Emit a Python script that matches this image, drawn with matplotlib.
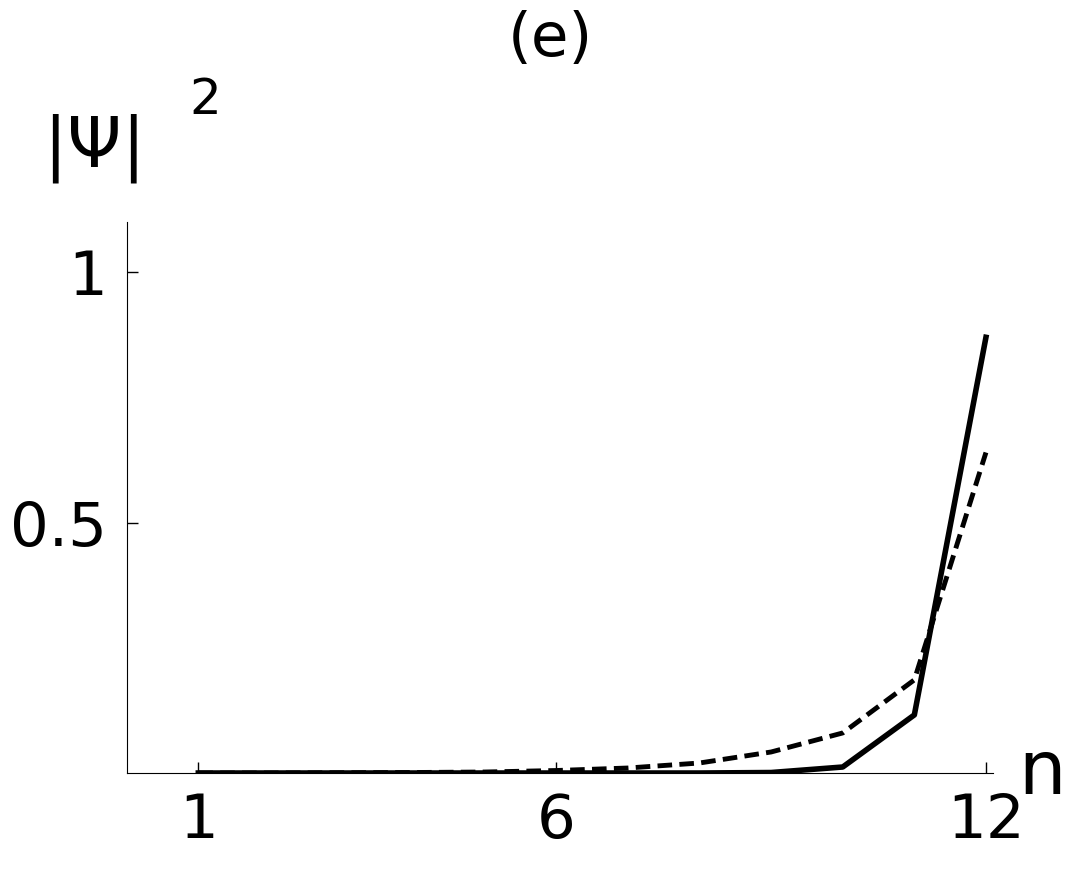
import numpy as np
import matplotlib.pyplot as plt

n = np.arange(1, 13)
solid = [0, 0, 0, 0, 0, 0, 0, 0, 0.001, 0.012, 0.116, 0.87]
dashed = [0, 0, 0.0005, 0.001, 0.002, 0.005, 0.01, 0.02, 0.042, 0.08, 0.186, 0.64]

fig = plt.figure(figsize=(10.83, 8.71), dpi=100)
ax = fig.add_axes([0.117, 0.1125, 0.80, 0.6325])
ax.plot(n, solid, 'k-', lw=4)
ax.plot(n, dashed, 'k--', lw=3.5, dashes=(3, 1.5))
ax.set_xlim(0, 12.1)
ax.set_ylim(0, 1.1)
ax.set_xticks([1, 6, 12])
ax.set_yticks([0.5, 1])
ax.set_yticklabels(['0.5', '1'])
ax.tick_params(direction='in', labelsize=44, length=8, width=1, pad=14)
ax.spines['top'].set_visible(False)
ax.spines['right'].set_visible(False)
ax.text(12.45, 0, 'n', fontsize=54, va='center', ha='left')
fig.text(0.04, 0.83, r'$|\Psi|$', fontsize=50, va='center')
fig.text(0.175, 0.885, '2', fontsize=36, va='center')
fig.text(0.508, 0.955, '(e)', fontsize=44, va='center', ha='center')
fig.savefig('out.png')
